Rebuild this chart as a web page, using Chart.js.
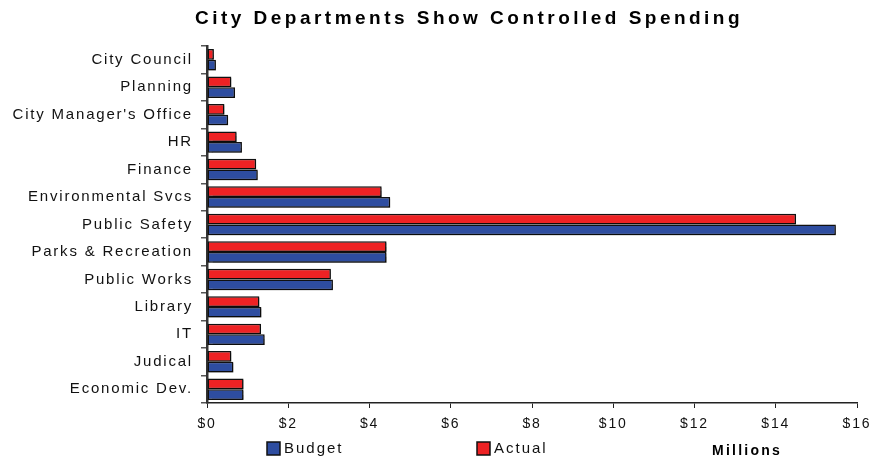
<!DOCTYPE html>
<html>
<head>
<meta charset="utf-8">
<script src="https://cdn.jsdelivr.net/npm/chart.js@4/dist/chart.umd.min.js"></script>
<style>
html,body{margin:0;padding:0;background:#fff;}
#wrap{width:871px;height:460px;position:relative;}
</style>
</head>
<body>
<div id="wrap"><canvas id="c" width="871" height="460"></canvas></div>
<script>
const categories = ["City Council","Planning","City Manager's Office","HR","Finance","Environmental Svcs","Public Safety","Parks & Recreation","Public Works","Library","IT","Judical","Economic Dev."];
const actual = [0.17,0.60,0.43,0.73,1.21,4.30,14.50,4.42,3.05,1.29,1.33,0.60,0.90];
const budget = [0.22,0.69,0.52,0.86,1.25,4.51,15.48,4.42,3.10,1.34,1.42,0.65,0.90];
const xTickValues = [0,2,4,6,8,10,12,14,16];
const titleText = "City Departments Show Controlled Spending";
const unitText = "Millions";

const FONT = "'Liberation Sans', Arial, sans-serif";
const RED = '#EE2224';
const BLUE = '#2E4DA0';
const LS = '1.8px';

const spacingPlugin = {
  id: 'spacing',
  beforeUpdate(chart){ chart.ctx.letterSpacing = LS; },
  beforeLayout(chart){ chart.ctx.letterSpacing = LS; },
  beforeDraw(chart){ chart.ctx.letterSpacing = LS; },
  beforeDatasetsDraw(chart){
    const ctx = chart.ctx;
    ctx.save();
    ctx.shadowColor = 'rgba(0,0,0,0.35)';
    ctx.shadowOffsetX = 1.5;
    ctx.shadowOffsetY = 1.5;
    ctx.shadowBlur = 1;
  },
  afterDatasetsDraw(chart){ chart.ctx.restore(); },
  afterDraw(chart){
    const ctx = chart.ctx;
    ctx.save();
    // title
    ctx.font = "bold 19px " + FONT;
    ctx.letterSpacing = '0px';
    const w0 = ctx.measureText(titleText).width;
    const sp = (548 - w0) / titleText.length;
    ctx.letterSpacing = sp.toFixed(2) + 'px';
    ctx.fillStyle = '#000';
    ctx.textAlign = 'left';
    ctx.textBaseline = 'alphabetic';
    ctx.fillText(titleText, 195, 24);

    // legend (Budget first, then Actual)
    const items = [chart.data.datasets[1], chart.data.datasets[0]];
    const xs = [267, 477];
    ctx.font = "15px " + FONT;
    ctx.letterSpacing = '2.0px';
    ctx.textBaseline = 'middle';
    items.forEach((ds, i) => {
      const x = xs[i], y = 442;
      ctx.fillStyle = ds.backgroundColor;
      ctx.fillRect(x, y, 13, 13);
      ctx.strokeStyle = '#111';
      ctx.lineWidth = 1.5;
      ctx.strokeRect(x, y, 13, 13);
      ctx.fillStyle = '#111';
      ctx.fillText(ds.label, x + 17, y + 6.5);
    });

    // unit label
    ctx.font = "bold 14px " + FONT;
    ctx.letterSpacing = '0px';
    const wu = ctx.measureText(unitText).width;
    ctx.letterSpacing = ((70 - wu) / unitText.length).toFixed(2) + 'px';
    ctx.fillStyle = '#000';
    ctx.fillText(unitText, 712, 451);
    ctx.restore();
  }
};

new Chart(document.getElementById('c'), {
  type: 'bar',
  data: {
    labels: categories,
    datasets: [
      { label: 'Actual', data: actual, backgroundColor: RED, borderColor: '#111', borderWidth: 1.5, borderSkipped: false,
        categoryPercentage: 0.78, barPercentage: 1.0 },
      { label: 'Budget', data: budget, backgroundColor: BLUE, borderColor: '#111', borderWidth: 1.5, borderSkipped: false,
        categoryPercentage: 0.78, barPercentage: 1.0 }
    ]
  },
  options: {
    indexAxis: 'y',
    responsive: false,
    animation: false,
    devicePixelRatio: 1,
    layout: { padding: { top: 46, right: 14, bottom: 32, left: 0 } },
    plugins: {
      legend: { display: false },
      title: { display: false },
      tooltip: { enabled: false }
    },
    scales: {
      x: {
        min: 0, max: 16,
        afterBuildTicks(scale){ scale.ticks = xTickValues.map(v => ({ value: v })); },
        afterFit(scale){ scale.height = 25; scale.paddingRight = 0; scale.paddingLeft = 0; },
        border: { display: true, color: '#222', width: 1.5 },
        grid: { display: true, drawOnChartArea: false, drawTicks: true, tickLength: 5, color: '#222', lineWidth: 1 },
        ticks: {
          color: '#111',
          font: { family: FONT, size: 14 },
          padding: 8,
          maxRotation: 0,
          callback: (v) => '$' + v
        }
      },
      y: {
        afterFit(scale){ scale.width = 207; scale.paddingTop = 0; scale.paddingBottom = 0; },
        border: { display: true, color: '#333', width: 2.5 },
        grid: { display: true, offset: true, drawOnChartArea: false, drawTicks: true, tickLength: 6, color: '#555', lineWidth: 1.5 },
        ticks: {
          color: '#111',
          font: { family: FONT, size: 15 },
          padding: 8,
          autoSkip: false
        }
      }
    }
  },
  plugins: [spacingPlugin]
});
</script>
</body>
</html>
